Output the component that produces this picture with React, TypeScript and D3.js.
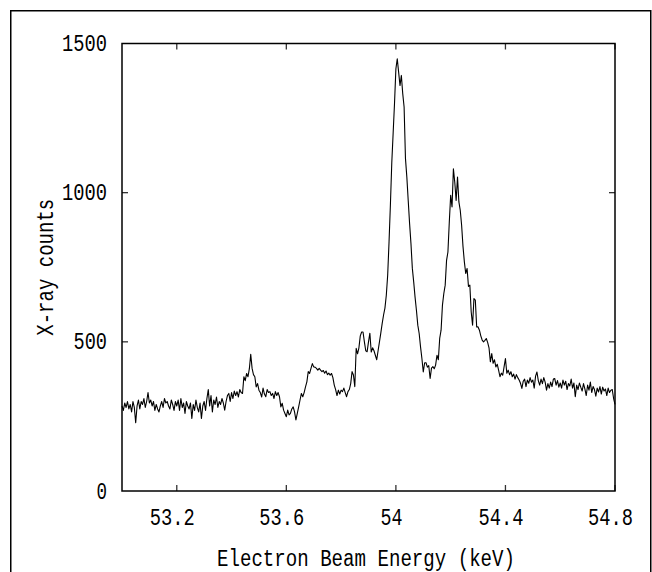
import React from "react";
import * as d3 from "d3";

// Spectrum: X-ray counts sampled every 0.005 keV from 53.000 keV
const energyStart = 53.0;
const energyStep = 0.005;
const counts: number[] = [
  285, 270, 295, 280, 300, 275, 290, 265, 300, 280,
  229, 285, 305, 275, 300, 290, 310, 280, 300, 330,
  295, 305, 285, 300, 270, 290, 275, 265, 285, 300,
  280, 310, 295, 300, 285, 275, 305, 290, 270, 300,
  285, 305, 270, 310, 280, 295, 260, 300, 285, 275,
  295, 243, 290, 270, 305, 280, 265, 295, 243, 285,
  300, 270, 310, 340, 285, 320, 265, 305, 290, 315,
  280, 300, 290, 310, 295, 271, 300, 320, 327, 300,
  330, 310, 335, 320, 333, 315, 340, 330, 327, 383,
  370, 394, 383, 410, 458, 411, 390, 383, 349, 360,
  338, 330, 315, 345, 325, 316, 340, 330, 333, 320,
  327, 310, 333, 320, 330, 316, 282, 294, 271, 260,
  249, 271, 255, 260, 275, 282, 265, 238, 260, 282,
  305, 327, 316, 330, 349, 366, 400, 394, 411, 427,
  416, 415, 411, 405, 411, 405, 400, 404, 395, 402,
  390, 395, 388, 394, 380, 355, 340, 320, 338, 325,
  338, 333, 345, 330, 316, 333, 340, 360, 400, 389,
  350, 478, 460, 480, 520, 533, 533, 500, 470, 467,
  500, 529, 466, 480, 470, 455, 440, 470, 500, 530,
  562, 590, 613, 656, 723, 835, 960, 1100, 1200, 1300,
  1415, 1449, 1404, 1359, 1393, 1332, 1287, 1114, 1052, 974,
  897, 830, 747, 701, 650, 606, 556, 528, 483, 444,
  399, 430, 430, 415, 420, 377, 412, 417, 410, 422,
  455, 440, 512, 539, 623, 662, 690, 773, 801, 902,
  991, 952, 1080, 1035, 974, 1052, 969, 941, 891, 820,
  768, 729, 746, 686, 690, 600, 556, 645, 640, 550,
  550, 539, 520, 506, 500, 505, 511, 498, 480, 433,
  461, 428, 440, 416, 425, 405, 383, 395, 388, 416,
  444, 395, 405, 390, 400, 383, 392, 375, 390, 380,
  372, 361, 344, 368, 375, 350, 372, 361, 380, 365,
  372, 345, 385, 399, 370, 355, 375, 360, 380, 365,
  338, 360, 345, 365, 350, 375, 377, 355, 370, 348,
  362, 345, 372, 355, 368, 340, 360, 352, 375, 345,
  362, 316, 355, 340, 362, 348, 335, 360, 342, 320,
  355, 338, 365, 330, 350, 340, 318, 345, 332, 350,
  325, 348, 335, 342, 320, 345, 330, 338, 340, 310,
  290,
];

const xDomain = [53.0, 54.8];
const yDomain = [0, 1500];
const xTicks = [53.2, 53.6, 54.0, 54.4, 54.8];
const xTickLabels = ["53.2", "53.6", "54", "54.4", "54.8"];
const yTicks = [0, 500, 1000, 1500];
const yTickLabels = ["0", "500", "1000", "1500"];
const xTitle = "Electron Beam Energy (keV)";
const yTitle = "X-ray counts";

const W = 652;
const H = 572;
const plot = { left: 122, right: 615, top: 43.5, bottom: 491 };
const FONT = "'Liberation Mono', 'DejaVu Sans Mono', monospace";
const FS = 23;
const CHAR_W = 11.5;

export default function App() {
  const x = d3.scaleLinear().domain(xDomain).range([plot.left, plot.right]);
  const y = d3.scaleLinear().domain(yDomain).range([plot.bottom, plot.top]);
  const pts: [number, number][] = counts.map((c, i) => [energyStart + i * energyStep, c]);
  const line = d3
    .line<[number, number]>()
    .x((d) => x(d[0]))
    .y((d) => y(d[1]));

  const tickLen = 6;
  return (
    <svg
      width={W}
      height={H}
      style={{ position: "absolute", left: 0, top: 0, background: "#fff" }}
    >
      <rect x={0} y={0} width={W} height={H} fill="#fff" />
      {/* outer border */}
      <rect x={10.75} y={10.75} width={640} height={640} fill="none" stroke="#000" strokeWidth={1.5} />

      {/* data */}
      <path d={line(pts) || ""} fill="none" stroke="#000" strokeWidth={1.1} strokeLinejoin="round" />

      {/* ticks */}
      {xTicks.map((t, i) => (
        <g key={"xt" + i}>
          <line x1={x(t)} x2={x(t)} y1={plot.bottom} y2={plot.bottom - tickLen} stroke="#333" strokeWidth={1.3} />
          <line x1={x(t)} x2={x(t)} y1={plot.top} y2={plot.top + tickLen} stroke="#333" strokeWidth={1.3} />
        </g>
      ))}
      {yTicks.slice(1, 3).map((t, i) => (
        <g key={"yt" + i}>
          <line x1={plot.left} x2={plot.left + tickLen} y1={y(t)} y2={y(t)} stroke="#333" strokeWidth={1.3} />
          <line x1={plot.right} x2={plot.right - tickLen} y1={y(t)} y2={y(t)} stroke="#333" strokeWidth={1.3} />
        </g>
      ))}

      {/* frame */}
      <rect
        x={plot.left}
        y={plot.top}
        width={plot.right - plot.left}
        height={plot.bottom - plot.top}
        fill="none"
        stroke="#000"
        strokeWidth={1.5}
      />

      {/* x tick labels */}
      {xTicks.map((t, i) => (
        <text
          key={"xl" + i}
          x={x(t) - 4.5}
          y={525}
          textAnchor="middle"
          fontFamily={FONT}
          fontSize={FS}
          textLength={xTickLabels[i].length * CHAR_W - 1}
          lengthAdjust="spacingAndGlyphs"
          fill="#000"
        >
          {xTickLabels[i]}
        </text>
      ))}

      {/* y tick labels */}
      {yTicks.map((t, i) => (
        <text
          key={"yl" + i}
          x={107}
          y={y(t) + 7.5}
          textAnchor="end"
          fontFamily={FONT}
          fontSize={FS}
          textLength={yTickLabels[i].length * CHAR_W - 1}
          lengthAdjust="spacingAndGlyphs"
          fill="#000"
        >
          {yTickLabels[i]}
        </text>
      ))}

      {/* axis titles */}
      <text
        x={366}
        y={566}
        textAnchor="middle"
        fontFamily={FONT}
        fontSize={FS}
        textLength={xTitle.length * CHAR_W - 1}
        lengthAdjust="spacingAndGlyphs"
        fill="#000"
      >
        {xTitle}
      </text>
      <text
        transform={`translate(53, ${(plot.top + plot.bottom) / 2}) rotate(-90)`}
        textAnchor="middle"
        fontFamily={FONT}
        fontSize={FS}
        textLength={yTitle.length * CHAR_W - 1}
        lengthAdjust="spacingAndGlyphs"
        fill="#000"
      >
        {yTitle}
      </text>
    </svg>
  );
}
